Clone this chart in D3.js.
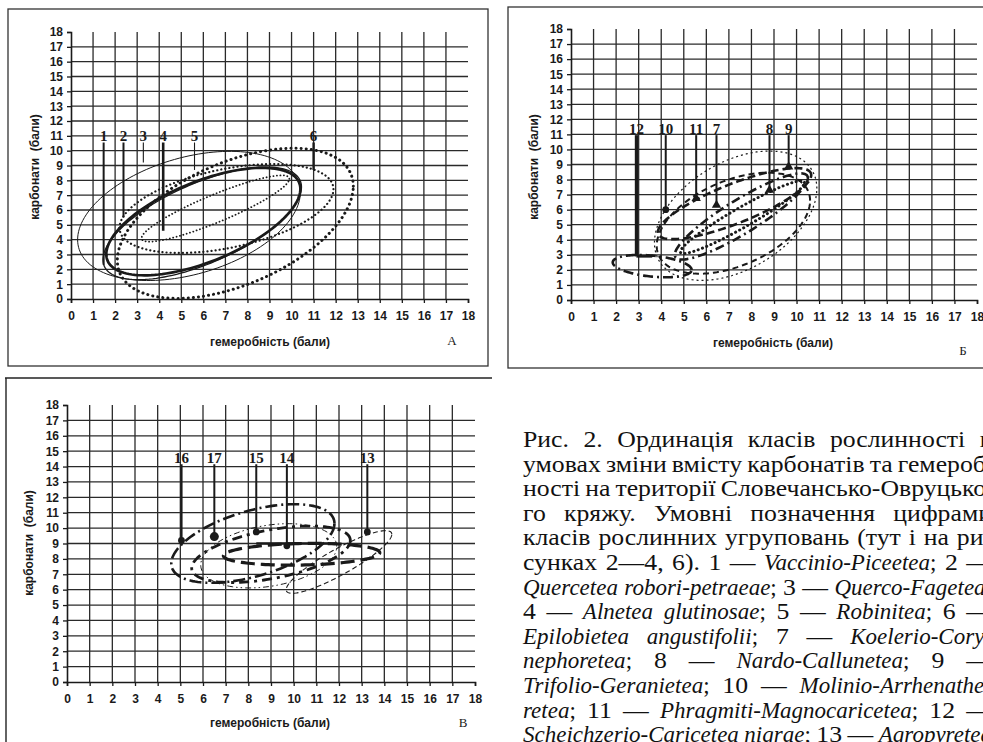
<!DOCTYPE html>
<html><head><meta charset="utf-8">
<script src="https://cdn.jsdelivr.net/npm/d3@7"></script>
<style>html,body{margin:0;padding:0;background:#fff;overflow:hidden}svg{display:block}</style>
</head><body>
<svg id="c" width="983" height="742"></svg>
<script>
// ===================== DATA =====================
const tickValues = d3.range(0, 19);
const xTitle = "гемеробність (бали)";
const yTitle = "карбонати  (бали)";

// Panel А : classes 1-6 (ellipse: centre cx,cy; half x-extent ax; tip offset dy; half thickness h)
const aClass   = [1, 2, 3, 4, 5, 6];
const aCx      = [5.95, 7.05, 5.35, 6.0, 6.55, 7.45];
const aCy      = [5.1, 6.1, 5.6, 5.22, 6.1, 5.1];
const aAx      = [4.5, 4.85, 5.05, 4.4, 3.35, 5.35];
const aDy      = [2.45, 1.3, 1.6, 2.2, 2.0, 2.5];
const aH       = [2.9, 2.7, 4.05, 2.88, 1.0, 4.4];
const aLeadX   = [1.48, 2.38, 3.28, 4.18, 5.6, 11.0];
const aLeadEnd = [2.3, 5.5, 9.2, 4.6, 8.7, 8.7];
const aLabelY  = 11;

// Panel Б : classes 7-12
const bClass   = [12, 10, 11, 7, 8, 9];
const bCx      = [3.6, 7.3, 7.2, 7.55, 7.6, 7.25];
const bCy      = [2.25, 5.6, 5.1, 5.55, 5.5, 6.4];
const bAx      = [1.75, 3.6, 3.4, 2.95, 2.75, 3.4];
const bDy      = [-0.25, 1.8, 1.5, 2.55, 2.3, 1.9];
const bH       = [0.7, 3.9, 3.0, 1.3, 0.75, 1.4];
const bLeadX   = [2.9, 4.2, 5.55, 6.45, 8.8, 9.65];
const bLeadEnd = [2.9, 6.0, 6.75, 6.3, 7.3, 8.85];
const bLabelY  = 11.4;
const bStub    = [[2.9, 2.9], [3.6, 2.9]];   // short horizontal foot of leader 12

// Panel В : classes 13-17
const cClass   = [16, 17, 15, 14, 13];
const cCx      = [8.2, 9.0, 8.9, 10.35, 12.0];
const cCy      = [9.0, 8.3, 8.2, 8.3, 7.8];
const cAx      = [3.6, 3.5, 3.0, 3.45, 2.33];
const cDy      = [1.3, 0.9, 0.6, 0.1, 1.8];
const cH       = [2.2, 1.6, 2.0, 0.7, 0.95];
const cLeadX   = [5.05, 6.5, 8.35, 9.7, 13.25];
const cLeadEnd = [9.2, 9.45, 9.75, 8.85, 9.75];
const cLabelY  = 14.6;
const cBar     = [[8.35, 9.0], [11.9, 9.0]];

const captionLines = [
  "Рис. 2. Ординація класів рослинності в",
  "умовах зміни вмісту карбонатів та гемероб-",
  "ності на території Словечансько-Овруцько-",
  "го кряжу. Умовні позначення цифрами",
  "класів рослинних угруповань (тут і на ри-",
  "сунках 2—4, 6). 1 — *Vaccinio-Piceetea*; 2 —",
  "*Quercetea robori-petraeae*; 3 — *Querco-Fagetea*;",
  "4 — *Alnetea glutinosae*; 5 — *Robinitea*; 6 —",
  "*Epilobietea angustifolii*; 7 — *Koelerio-Cory-*",
  "*nephoretea*; 8 — *Nardo-Callunetea*; 9 —",
  "*Trifolio-Geranietea*; 10 — *Molinio-Arrhenathe-*",
  "*retea*; 11 — *Phragmiti-Magnocaricetea*; 12 —",
  "*Scheichzerio-Caricetea nigrae*; 13 — *Agropyretea*"
];

// ===================== STYLES =====================
const styleOf = {
  1:{w:1.3}, 2:{w:2.2,dash:"0.1 4",cap:"round"}, 3:{w:1.0}, 4:{w:2.7},
  5:{w:1.8,dash:"0.1 3.4",cap:"round"}, 6:{w:3,dash:"0.1 5",cap:"round"},
  7:{w:2.6,dash:"9 4 2 4"}, 8:{w:3,dash:"0.1 4.5",cap:"round"}, 9:{w:2.6,dash:"8 4"},
  10:{w:1.2,dash:"2 3"}, 11:{w:2,dash:"6 4"}, 12:{w:2.6,dash:"10 4 2 4"},
  13:{w:1.1,dash:"5 3"}, 14:{w:3.2,dash:"14 6"}, 15:{w:1,dash:"6 3 1.5 3 1.5 3"},
  16:{w:2.6,dash:"12 4 2 4"}, 17:{w:2.8,dash:"10 5 3 5"}
};
const leadW = {1:2,2:2,3:1.1,4:2.6,5:1.1,6:2.4,7:2,8:2,9:2,10:2,11:2,12:3.2,13:2,14:2,15:2,16:2.2,17:2};
const markerOf = {10:"dot",11:"tri",7:"tri",8:"tri",9:"tri",13:"dot",14:"dot",15:"dot",16:"dot",17:"bigdot"};

const layouts = [
  {key:"A", x0:71, x18:468, y0:299, y18:32, ytX:36, ytY:167, xtX:270, xtY:346, tag:"А", tagX:452, tagY:345,
   border:{x:8,y:9,w:480,h:357,sides:"all"}},
  {key:"B", x0:571, x18:977, y0:300, y18:29, ytX:535, ytY:167, xtX:773, xtY:347, tag:"Б", tagX:963, tagY:355,
   border:{x:508,y:7,w:520,h:361,sides:"all"}},
  {key:"C", x0:67, x18:475, y0:682, y18:405, ytX:30, ytY:543, xtX:270, xtY:727, tag:"В", tagX:463, tagY:727,
   border:{x:6,y:378,w:486,h:400,sides:"tl"}}
];

const svg = d3.select("#c");
const ink = "#1a1a1a";
const sans = "Liberation Sans, Arial, sans-serif";
const serif = "Liberation Serif, Times New Roman, serif";

function zipE(cls, cx, cy, ax, dy, h) {
  return cls.map((c, i) => ({c, cx: cx[i], cy: cy[i], ax: ax[i], dy: dy[i], h: h[i]}));
}
const panelData = {
  A: {ell: zipE(aClass,aCx,aCy,aAx,aDy,aH), leadX:aLeadX, leadEnd:aLeadEnd, labelY:aLabelY, cls:aClass},
  B: {ell: zipE(bClass,bCx,bCy,bAx,bDy,bH), leadX:bLeadX, leadEnd:bLeadEnd, labelY:bLabelY, cls:bClass, extra:[bStub]},
  C: {ell: zipE(cClass,cCx,cCy,cAx,cDy,cH), leadX:cLeadX, leadEnd:cLeadEnd, labelY:cLabelY, cls:cClass, extra:[cBar]}
};

layouts.forEach(L => {
  const D = panelData[L.key];
  const g = svg.append("g");
  const x = d3.scaleLinear().domain([0, 18]).range([L.x0, L.x18]);
  const y = d3.scaleLinear().domain([0, 18]).range([L.y0, L.y18]);

  const b = L.border;
  if (b.sides === "all") {
    g.append("rect").attr("x", b.x).attr("y", b.y).attr("width", b.w).attr("height", b.h)
      .attr("fill", "none").attr("stroke", "#333").attr("stroke-width", 1.3);
  } else {
    g.append("line").attr("x1", b.x - 1).attr("x2", b.x + b.w).attr("y1", b.y).attr("y2", b.y).attr("stroke", "#222").attr("stroke-width", 1.4);
    g.append("line").attr("x1", b.x).attr("x2", b.x).attr("y1", b.y).attr("y2", b.y + b.h).attr("stroke", "#222").attr("stroke-width", 1.4);
  }

  const inner = tickValues.filter(v => v > 0 && v < 18);
  g.selectAll(".vg").data(inner).join("line")
    .attr("x1", d => x(d)).attr("x2", d => x(d)).attr("y1", y(0)).attr("y2", y(18))
    .attr("stroke", "#2a2a2a").attr("stroke-width", 1.3);
  g.selectAll(".hg").data(inner).join("line")
    .attr("y1", d => y(d)).attr("y2", d => y(d)).attr("x1", x(0)).attr("x2", x(18))
    .attr("stroke", "#2a2a2a").attr("stroke-width", 1.3);

  const ax = g.append("g").attr("transform", `translate(0,${y(0)})`)
    .call(d3.axisBottom(x).tickValues(tickValues).tickSize(4).tickPadding(8).tickFormat(d3.format("d")));
  const ay = g.append("g").attr("transform", `translate(${x(0)},0)`)
    .call(d3.axisLeft(y).tickValues(tickValues).tickSize(4).tickPadding(4).tickFormat(d3.format("d")));
  [ax, ay].forEach(a => {
    a.select(".domain").attr("stroke", ink).attr("stroke-width", 1.6);
    a.selectAll(".tick line").attr("stroke", ink).attr("stroke-width", 1.3);
    a.selectAll("text").attr("font-family", sans)
      .attr("font-weight", "bold").attr("font-size", 12).attr("fill", ink);
  });

  g.append("text").attr("x", L.xtX).attr("y", L.xtY).attr("text-anchor", "middle")
    .attr("font-family", sans).attr("font-weight", "bold")
    .attr("font-size", 12).attr("fill", ink).text(xTitle);
  g.append("text").attr("transform", `translate(${L.ytX},${L.ytY}) rotate(-90)`).attr("text-anchor", "middle")
    .attr("dominant-baseline", "middle").attr("font-family", sans)
    .attr("font-weight", "bold").attr("font-size", 12).attr("fill", ink).attr("xml:space", "preserve").text(yTitle);
  g.append("text").attr("x", L.tagX).attr("y", L.tagY).attr("text-anchor", "middle")
    .attr("font-family", serif).attr("font-size", 13).attr("fill", ink).text(L.tag);

  const line = d3.line().x(p => x(p[0])).y(p => y(p[1])).curve(d3.curveLinearClosed);
  g.selectAll(".ell").data(D.ell).join("path")
    .attr("d", e => line(d3.range(0, 144).map(i => {
      const t = i / 144 * 2 * Math.PI;
      return [e.cx + e.ax * Math.cos(t), e.cy + e.dy * Math.cos(t) + e.h * Math.sin(t)];
    })))
    .attr("fill", "none").attr("stroke", ink)
    .attr("stroke-width", e => styleOf[e.c].w)
    .attr("stroke-dasharray", e => styleOf[e.c].dash || null)
    .attr("stroke-linecap", e => styleOf[e.c].cap || "butt");

  (D.extra || []).forEach(seg => {
    g.append("path").attr("d", d3.line().x(p => x(p[0])).y(p => y(p[1]))(seg))
      .attr("stroke", ink).attr("stroke-width", 2.6).attr("fill", "none");
  });

  const topY = D.labelY - 0.45;
  D.cls.forEach((c, i) => {
    const lx = D.leadX[i], ly = D.leadEnd[i];
    g.append("line").attr("x1", x(lx)).attr("x2", x(lx)).attr("y1", y(topY)).attr("y2", y(ly))
      .attr("stroke", ink).attr("stroke-width", leadW[c]);
    const m = markerOf[c];
    if (m === "dot" || m === "bigdot") {
      g.append("circle").attr("cx", x(lx)).attr("cy", y(ly)).attr("r", m === "bigdot" ? 4.5 : 3.4).attr("fill", ink);
    } else if (m === "tri") {
      g.append("path").attr("d", d3.symbol(d3.symbolTriangle, 38)()).attr("transform", `translate(${x(lx)},${y(ly)})`).attr("fill", ink);
    }
    g.append("text").attr("x", x(lx)).attr("y", y(D.labelY)).attr("dy", "0.36em").attr("text-anchor", "middle")
      .attr("font-family", serif).attr("font-weight", "bold")
      .attr("font-size", 15).attr("fill", ink).text(c);
  });
});

// ===================== CAPTION =====================
const capX = 523, capRight = 992, capY0 = 447, capStep = 24.6, uprightStretch = 1.12;
captionLines.forEach((ln, li) => {
  let it = false; const words = []; let cur = []; let buf = "";
  const flush = () => { if (buf) { cur.push({t: buf, i: it}); buf = ""; } };
  for (const ch of ln) {
    if (ch === "*") { flush(); it = !it; }
    else if (ch === " ") { flush(); if (cur.length) { words.push(cur); cur = []; } }
    else buf += ch;
  }
  flush(); if (cur.length) words.push(cur);
  const yy = capY0 + li * capStep;
  const items = words.map(w => {
    const t = svg.append("text").attr("font-family", serif).attr("font-size", 23).attr("fill", "#111");
    w.forEach(r => t.append("tspan").attr("font-style", r.i ? "italic" : "normal").text(r.t));
    const itChars = d3.sum(w, r => r.i ? r.t.length : 0), allChars = d3.sum(w, r => r.t.length);
    const sx = itChars * 2 > allChars ? 1 : uprightStretch;
    return {t, sx, w: t.node().getComputedTextLength() * sx};
  });
  const total = d3.sum(items, d => d.w);
  const gap = Math.max(5, (capRight - capX - total) / Math.max(1, items.length - 1));
  let xx = capX;
  items.forEach(d => { d.t.attr("transform", `translate(${xx},${yy}) scale(${d.sx},1)`); xx += d.w + gap; });
});
</script>
</body></html>
